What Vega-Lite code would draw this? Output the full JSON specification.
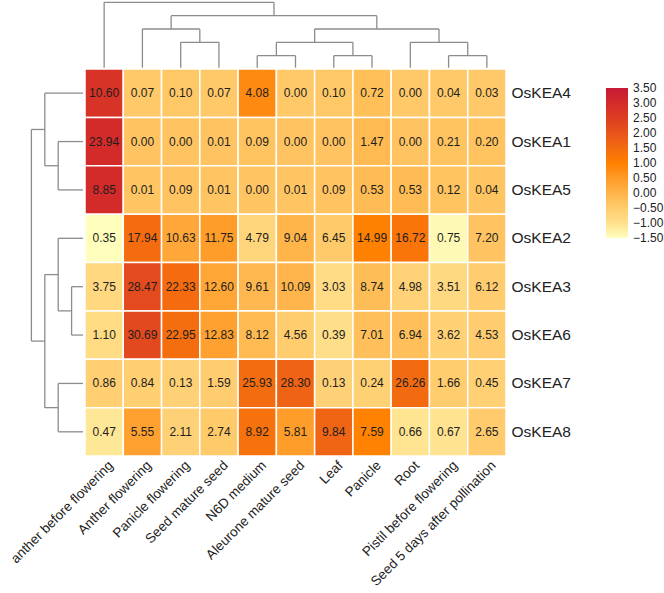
{
  "$schema": "https://vega.github.io/schema/vega-lite/v6.json",
  "width": 421,
  "height": 387,
  "autosize": {"type": "none"},
  "padding": {"left": 85, "top": 69, "right": 158, "bottom": 137},
  "background": "white",
  "config": {
    "view": {"stroke": null},
    "font": "Liberation Sans",
    "axis": {"labelFont": "Liberation Sans", "labelColor": "#222222"},
    "legend": {"labelFont": "Liberation Sans"}
  },
  "datasets": {
    "expr": [
      {"gene": "OsKEA4", "tissue": "anther before flowering", "value": 10.60, "z": 2.803},
      {"gene": "OsKEA4", "tissue": "Anther flowering", "value": 0.07, "z": -0.418},
      {"gene": "OsKEA4", "tissue": "Panicle flowering", "value": 0.10, "z": -0.409},
      {"gene": "OsKEA4", "tissue": "Seed mature seed", "value": 0.07, "z": -0.418},
      {"gene": "OsKEA4", "tissue": "N6D medium", "value": 4.08, "z": 0.809},
      {"gene": "OsKEA4", "tissue": "Aleurone mature seed", "value": 0.00, "z": -0.440},
      {"gene": "OsKEA4", "tissue": "Leaf", "value": 0.10, "z": -0.409},
      {"gene": "OsKEA4", "tissue": "Panicle", "value": 0.72, "z": -0.219},
      {"gene": "OsKEA4", "tissue": "Root", "value": 0.00, "z": -0.440},
      {"gene": "OsKEA4", "tissue": "Pistil before flowering", "value": 0.04, "z": -0.427},
      {"gene": "OsKEA4", "tissue": "Seed 5 days after pollination", "value": 0.03, "z": -0.431},

      {"gene": "OsKEA1", "tissue": "anther before flowering", "value": 23.94, "z": 3.010},
      {"gene": "OsKEA1", "tissue": "Anther flowering", "value": 0.00, "z": -0.329},
      {"gene": "OsKEA1", "tissue": "Panicle flowering", "value": 0.00, "z": -0.329},
      {"gene": "OsKEA1", "tissue": "Seed mature seed", "value": 0.01, "z": -0.327},
      {"gene": "OsKEA1", "tissue": "N6D medium", "value": 0.09, "z": -0.316},
      {"gene": "OsKEA1", "tissue": "Aleurone mature seed", "value": 0.00, "z": -0.329},
      {"gene": "OsKEA1", "tissue": "Leaf", "value": 0.00, "z": -0.329},
      {"gene": "OsKEA1", "tissue": "Panicle", "value": 1.47, "z": -0.124},
      {"gene": "OsKEA1", "tissue": "Root", "value": 0.00, "z": -0.329},
      {"gene": "OsKEA1", "tissue": "Pistil before flowering", "value": 0.21, "z": -0.299},
      {"gene": "OsKEA1", "tissue": "Seed 5 days after pollination", "value": 0.20, "z": -0.301},

      {"gene": "OsKEA5", "tissue": "anther before flowering", "value": 8.85, "z": 3.007},
      {"gene": "OsKEA5", "tissue": "Anther flowering", "value": 0.01, "z": -0.351},
      {"gene": "OsKEA5", "tissue": "Panicle flowering", "value": 0.09, "z": -0.321},
      {"gene": "OsKEA5", "tissue": "Seed mature seed", "value": 0.01, "z": -0.351},
      {"gene": "OsKEA5", "tissue": "N6D medium", "value": 0.00, "z": -0.355},
      {"gene": "OsKEA5", "tissue": "Aleurone mature seed", "value": 0.01, "z": -0.351},
      {"gene": "OsKEA5", "tissue": "Leaf", "value": 0.09, "z": -0.321},
      {"gene": "OsKEA5", "tissue": "Panicle", "value": 0.53, "z": -0.154},
      {"gene": "OsKEA5", "tissue": "Root", "value": 0.53, "z": -0.154},
      {"gene": "OsKEA5", "tissue": "Pistil before flowering", "value": 0.12, "z": -0.309},
      {"gene": "OsKEA5", "tissue": "Seed 5 days after pollination", "value": 0.04, "z": -0.340},

      {"gene": "OsKEA2", "tissue": "anther before flowering", "value": 0.35, "z": -1.475},
      {"gene": "OsKEA2", "tissue": "Anther flowering", "value": 17.94, "z": 1.474},
      {"gene": "OsKEA2", "tissue": "Panicle flowering", "value": 10.63, "z": 0.249},
      {"gene": "OsKEA2", "tissue": "Seed mature seed", "value": 11.75, "z": 0.437},
      {"gene": "OsKEA2", "tissue": "N6D medium", "value": 4.79, "z": -0.730},
      {"gene": "OsKEA2", "tissue": "Aleurone mature seed", "value": 9.04, "z": -0.018},
      {"gene": "OsKEA2", "tissue": "Leaf", "value": 6.45, "z": -0.452},
      {"gene": "OsKEA2", "tissue": "Panicle", "value": 14.99, "z": 0.980},
      {"gene": "OsKEA2", "tissue": "Root", "value": 16.72, "z": 1.270},
      {"gene": "OsKEA2", "tissue": "Pistil before flowering", "value": 0.75, "z": -1.408},
      {"gene": "OsKEA2", "tissue": "Seed 5 days after pollination", "value": 7.20, "z": -0.326},

      {"gene": "OsKEA3", "tissue": "anther before flowering", "value": 3.75, "z": -0.799},
      {"gene": "OsKEA3", "tissue": "Anther flowering", "value": 28.47, "z": 2.219},
      {"gene": "OsKEA3", "tissue": "Panicle flowering", "value": 22.33, "z": 1.470},
      {"gene": "OsKEA3", "tissue": "Seed mature seed", "value": 12.60, "z": 0.282},
      {"gene": "OsKEA3", "tissue": "N6D medium", "value": 9.61, "z": -0.083},
      {"gene": "OsKEA3", "tissue": "Aleurone mature seed", "value": 10.09, "z": -0.025},
      {"gene": "OsKEA3", "tissue": "Leaf", "value": 3.03, "z": -0.887},
      {"gene": "OsKEA3", "tissue": "Panicle", "value": 8.74, "z": -0.190},
      {"gene": "OsKEA3", "tissue": "Root", "value": 4.98, "z": -0.649},
      {"gene": "OsKEA3", "tissue": "Pistil before flowering", "value": 3.51, "z": -0.828},
      {"gene": "OsKEA3", "tissue": "Seed 5 days after pollination", "value": 6.12, "z": -0.510},

      {"gene": "OsKEA6", "tissue": "anther before flowering", "value": 1.10, "z": -0.872},
      {"gene": "OsKEA6", "tissue": "Anther flowering", "value": 30.69, "z": 2.260},
      {"gene": "OsKEA6", "tissue": "Panicle flowering", "value": 22.95, "z": 1.441},
      {"gene": "OsKEA6", "tissue": "Seed mature seed", "value": 12.83, "z": 0.369},
      {"gene": "OsKEA6", "tissue": "N6D medium", "value": 8.12, "z": -0.129},
      {"gene": "OsKEA6", "tissue": "Aleurone mature seed", "value": 4.56, "z": -0.506},
      {"gene": "OsKEA6", "tissue": "Leaf", "value": 0.39, "z": -0.947},
      {"gene": "OsKEA6", "tissue": "Panicle", "value": 7.01, "z": -0.247},
      {"gene": "OsKEA6", "tissue": "Root", "value": 6.94, "z": -0.254},
      {"gene": "OsKEA6", "tissue": "Pistil before flowering", "value": 3.62, "z": -0.605},
      {"gene": "OsKEA6", "tissue": "Seed 5 days after pollination", "value": 4.53, "z": -0.509},

      {"gene": "OsKEA7", "tissue": "anther before flowering", "value": 0.86, "z": -0.573},
      {"gene": "OsKEA7", "tissue": "Anther flowering", "value": 0.84, "z": -0.574},
      {"gene": "OsKEA7", "tissue": "Panicle flowering", "value": 0.13, "z": -0.633},
      {"gene": "OsKEA7", "tissue": "Seed mature seed", "value": 1.59, "z": -0.513},
      {"gene": "OsKEA7", "tissue": "N6D medium", "value": 25.93, "z": 1.480},
      {"gene": "OsKEA7", "tissue": "Aleurone mature seed", "value": 28.30, "z": 1.674},
      {"gene": "OsKEA7", "tissue": "Leaf", "value": 0.13, "z": -0.633},
      {"gene": "OsKEA7", "tissue": "Panicle", "value": 0.24, "z": -0.623},
      {"gene": "OsKEA7", "tissue": "Root", "value": 26.26, "z": 1.507},
      {"gene": "OsKEA7", "tissue": "Pistil before flowering", "value": 1.66, "z": -0.507},
      {"gene": "OsKEA7", "tissue": "Seed 5 days after pollination", "value": 0.45, "z": -0.606},

      {"gene": "OsKEA8", "tissue": "anther before flowering", "value": 0.47, "z": -1.109},
      {"gene": "OsKEA8", "tissue": "Anther flowering", "value": 5.55, "z": 0.372},
      {"gene": "OsKEA8", "tissue": "Panicle flowering", "value": 2.11, "z": -0.631},
      {"gene": "OsKEA8", "tissue": "Seed mature seed", "value": 2.74, "z": -0.447},
      {"gene": "OsKEA8", "tissue": "N6D medium", "value": 8.92, "z": 1.354},
      {"gene": "OsKEA8", "tissue": "Aleurone mature seed", "value": 5.81, "z": 0.448},
      {"gene": "OsKEA8", "tissue": "Leaf", "value": 9.84, "z": 1.622},
      {"gene": "OsKEA8", "tissue": "Panicle", "value": 7.59, "z": 0.967},
      {"gene": "OsKEA8", "tissue": "Root", "value": 0.66, "z": -1.053},
      {"gene": "OsKEA8", "tissue": "Pistil before flowering", "value": 0.67, "z": -1.050},
      {"gene": "OsKEA8", "tissue": "Seed 5 days after pollination", "value": 2.65, "z": -0.473}
    ],
    "tissueTree": [
      {"p": 4.5, "p2": 5.5, "h": 1, "h2": 1},
      {"p": 4.5, "p2": 4.5, "h": 1, "h2": 0.1},
      {"p": 5.5, "p2": 5.5, "h": 1, "h2": 0.1},
      {"p": 6.5, "p2": 7.5, "h": 1, "h2": 1},
      {"p": 6.5, "p2": 6.5, "h": 1, "h2": 0.1},
      {"p": 7.5, "p2": 7.5, "h": 1, "h2": 0.1},
      {"p": 9.5, "p2": 10.5, "h": 1, "h2": 1},
      {"p": 9.5, "p2": 9.5, "h": 1, "h2": 0.1},
      {"p": 10.5, "p2": 10.5, "h": 1, "h2": 0.1},
      {"p": 2.5, "p2": 3.5, "h": 2, "h2": 2},
      {"p": 2.5, "p2": 2.5, "h": 2, "h2": 0.1},
      {"p": 3.5, "p2": 3.5, "h": 2, "h2": 0.1},
      {"p": 5, "p2": 7, "h": 2, "h2": 2},
      {"p": 5, "p2": 5, "h": 2, "h2": 1},
      {"p": 7, "p2": 7, "h": 2, "h2": 1},
      {"p": 8.5, "p2": 10, "h": 2, "h2": 2},
      {"p": 8.5, "p2": 8.5, "h": 2, "h2": 0.1},
      {"p": 10, "p2": 10, "h": 2, "h2": 1},
      {"p": 1.5, "p2": 3, "h": 3, "h2": 3},
      {"p": 1.5, "p2": 1.5, "h": 3, "h2": 0.1},
      {"p": 3, "p2": 3, "h": 3, "h2": 2},
      {"p": 6, "p2": 9.25, "h": 3, "h2": 3},
      {"p": 6, "p2": 6, "h": 3, "h2": 2},
      {"p": 9.25, "p2": 9.25, "h": 3, "h2": 2},
      {"p": 2.25, "p2": 7.625, "h": 4, "h2": 4},
      {"p": 2.25, "p2": 2.25, "h": 4, "h2": 3},
      {"p": 7.625, "p2": 7.625, "h": 4, "h2": 3},
      {"p": 0.5, "p2": 4.9375, "h": 5, "h2": 5},
      {"p": 0.5, "p2": 0.5, "h": 5, "h2": 0.1},
      {"p": 4.9375, "p2": 4.9375, "h": 5, "h2": 4}
    ],
    "geneTree": [
      {"p": 4.5, "p2": 5.5, "h": 1, "h2": 1},
      {"p": 4.5, "p2": 4.5, "h": 1, "h2": 0.15},
      {"p": 5.5, "p2": 5.5, "h": 1, "h2": 0.15},
      {"p": 1.5, "p2": 2.5, "h": 2, "h2": 2},
      {"p": 1.5, "p2": 1.5, "h": 2, "h2": 0.15},
      {"p": 2.5, "p2": 2.5, "h": 2, "h2": 0.15},
      {"p": 3.5, "p2": 5, "h": 2, "h2": 2},
      {"p": 3.5, "p2": 3.5, "h": 2, "h2": 0.15},
      {"p": 5, "p2": 5, "h": 2, "h2": 1},
      {"p": 6.5, "p2": 7.5, "h": 2, "h2": 2},
      {"p": 6.5, "p2": 6.5, "h": 2, "h2": 0.15},
      {"p": 7.5, "p2": 7.5, "h": 2, "h2": 0.15},
      {"p": 0.5, "p2": 2, "h": 3, "h2": 3},
      {"p": 0.5, "p2": 0.5, "h": 3, "h2": 0.15},
      {"p": 2, "p2": 2, "h": 3, "h2": 2},
      {"p": 4.25, "p2": 7, "h": 3, "h2": 3},
      {"p": 4.25, "p2": 4.25, "h": 3, "h2": 2},
      {"p": 7, "p2": 7, "h": 3, "h2": 2},
      {"p": 1.25, "p2": 5.625, "h": 4, "h2": 4},
      {"p": 1.25, "p2": 1.25, "h": 4, "h2": 3},
      {"p": 5.625, "p2": 5.625, "h": 4, "h2": 3}
    ]
  },
  "layer": [
    {
      "data": {"name": "expr"},
      "encoding": {
        "x": {
          "field": "tissue",
          "type": "nominal",
          "sort": null,
          "scale": {
            "domain": ["anther before flowering", "Anther flowering", "Panicle flowering", "Seed mature seed", "N6D medium", "Aleurone mature seed", "Leaf", "Panicle", "Root", "Pistil before flowering", "Seed 5 days after pollination"],
            "paddingInner": 0,
            "paddingOuter": 0
          },
          "axis": {
            "orient": "bottom",
            "title": null,
            "labelAngle": -45,
            "labelFontSize": 13.5,
            "labelPadding": 2,
            "labelOffset": 2,
            "labelLimit": 400,
            "ticks": false,
            "domain": false
          }
        },
        "y": {
          "field": "gene",
          "type": "nominal",
          "sort": null,
          "scale": {
            "domain": ["OsKEA4", "OsKEA1", "OsKEA5", "OsKEA2", "OsKEA3", "OsKEA6", "OsKEA7", "OsKEA8"],
            "paddingInner": 0,
            "paddingOuter": 0
          },
          "axis": {
            "orient": "right",
            "title": null,
            "labelFontSize": 15.5,
            "labelPadding": 5,
            "ticks": false,
            "domain": false
          }
        }
      },
      "layer": [
        {
          "mark": {"type": "rect", "stroke": "white", "strokeWidth": 1.5},
          "encoding": {
            "color": {
              "field": "z",
              "type": "quantitative",
              "scale": {
                "domain": [-1.5, -1, -0.5, 0, 0.5, 1, 1.5, 2, 2.5, 3, 3.5],
                "range": ["#FFFFBF", "#FFE08C", "#FFCC6E", "#FFB449", "#FF9A27", "#FF8000", "#F36B10", "#E7541A", "#DD3E22", "#D32B29", "#C61A37"],
                "clamp": true
              },
              "legend": {
                "orient": "none",
                "legendX": 521,
                "legendY": 19,
                "title": null,
                "direction": "vertical",
                "gradientLength": 150,
                "gradientThickness": 22,
                "values": [-1.5, -1, -0.5, 0, 0.5, 1, 1.5, 2, 2.5, 3, 3.5],
                "format": ".2f",
                "labelFontSize": 12,
                "labelColor": "#222222",
                "labelOffset": 5,
                "labelOverlap": false,
                "encode": {
                  "labels": {
                    "enter": {"baseline": {"value": "middle"}},
                    "update": {"baseline": {"value": "middle"}}
                  }
                }
              }
            }
          }
        },
        {
          "mark": {"type": "text", "fontSize": 12, "color": "#1e1e1e", "font": "Liberation Sans"},
          "encoding": {
            "text": {"field": "value", "type": "quantitative", "format": ".2f"}
          }
        }
      ]
    },
    {
      "data": {"name": "tissueTree"},
      "mark": {"type": "rule", "color": "#8c8c8c", "strokeWidth": 1.3},
      "encoding": {
        "x": {"field": "p", "type": "quantitative", "scale": {"domain": [0, 11], "nice": false, "zero": false}, "axis": null},
        "x2": {"field": "p2"},
        "y": {"field": "h", "type": "quantitative", "scale": {"domain": [0, 5], "range": [0, -66.7], "nice": false, "zero": false}, "axis": null},
        "y2": {"field": "h2"}
      }
    },
    {
      "data": {"name": "geneTree"},
      "mark": {"type": "rule", "color": "#8c8c8c", "strokeWidth": 1.3},
      "encoding": {
        "y": {"field": "p", "type": "quantitative", "scale": {"domain": [0, 8], "reverse": true, "nice": false, "zero": false}, "axis": null},
        "y2": {"field": "p2"},
        "x": {"field": "h", "type": "quantitative", "scale": {"domain": [0, 4], "range": [0, -53.6], "nice": false, "zero": false}, "axis": null},
        "x2": {"field": "h2"}
      }
    }
  ],
  "resolve": {"scale": {"x": "independent", "y": "independent"}}
}
